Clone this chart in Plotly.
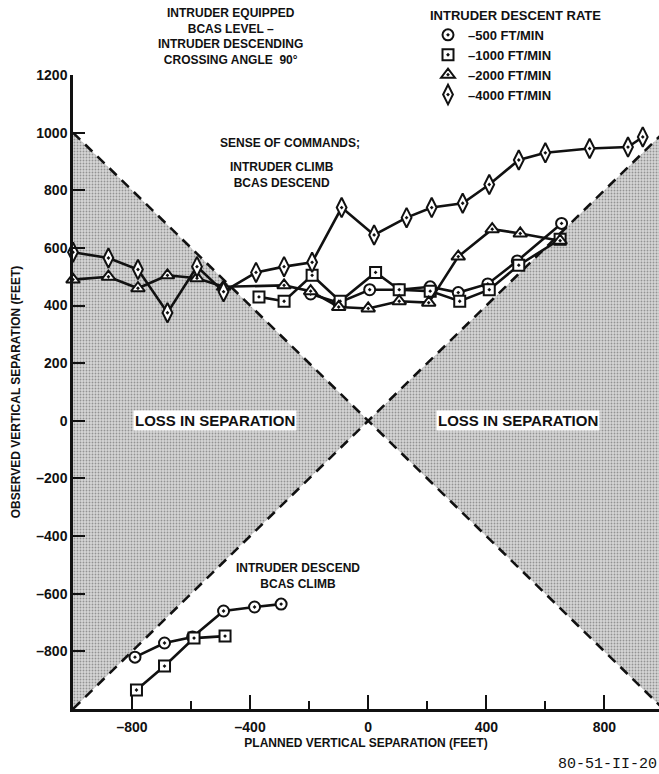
import plotly.graph_objects as go

# ---------------- data ----------------
# Upper group: sense of commands intruder climb / BCAS descend
r500_x = [-195, -100, 5, 105, 210, 305, 405, 505, 655]
r500_y = [440, 410, 455, 455, 465, 445, 475, 555, 685]

r1000_x = [-370, -285, -190, -95, 25, 105, 210, 310, 410, 510, 650]
r1000_y = [430, 415, 505, 415, 515, 455, 450, 415, 455, 540, 630]

r2000_x = [-1000, -880, -780, -680, -580, -490, -285, -195, -100, 0, 105, 205, 305, 420, 515, 650]
r2000_y = [490, 500, 460, 505, 495, 465, 470, 450, 395, 390, 415, 410, 570, 665, 650, 625]

r4000_x = [-1000, -880, -780, -680, -580, -490, -380, -285, -190, -90, 20, 130, 215, 320, 410, 510, 600, 750, 880, 930]
r4000_y = [585, 565, 525, 375, 535, 448, 515, 535, 550, 740, 645, 705, 740, 755, 820, 905, 930, 945, 950, 985]

# Lower group: intruder descend / BCAS climb
low500_x = [-790, -690, -595, -490, -385, -295]
low500_y = [-820, -771, -750, -660, -646, -636]

low1000_x = [-785, -690, -590, -485]
low1000_y = [-934, -851, -754, -747]

# Loss-in-separation zones (bounded by the lines |observed| = |planned|)
left_zone_x = [-1000, 0, -1000]
left_zone_y = [1000, 0, -1000]
right_zone_x = [1000, 0, 1000]
right_zone_y = [1000, 0, -1000]
diag_up_x = [-1000, 1000]
diag_up_y = [-1000, 1000]
diag_dn_x = [-1000, 1000]
diag_dn_y = [1000, -1000]

x_tickvals = [-800, -400, 0, 400, 800]
x_ticktext = ["\u2013800", "\u2013400", "0", "400", "800"]
y_tickvals = [-800, -600, -400, -200, 0, 200, 400, 600, 800, 1000, 1200]
y_ticktext = ["\u2013800", "\u2013600", "\u2013400", "\u2013200", "0", "200", "400", "600", "800", "1000", "1200"]

legend_names = ["\u2013500 FT/MIN", "\u20131000 FT/MIN", "\u20132000 FT/MIN", "\u20134000 FT/MIN"]

# ---------------- styling ----------------
W, H = 659, 774
L, R, T, B = 73, 0, 75, 65
FONT = "Liberation Sans, Arial, Helvetica, sans-serif"
BLACK = "#111111"


def px2paper_x(px):
    return (px - L) / (W - L - R)


def px2paper_y(py):
    return (H - B - py) / (H - T - B)


fig = go.Figure()

pattern = dict(shape=".", fgcolor="#505050", bgcolor="#d6d6d6", size=3, solidity=0.3)
for zx, zy in [(left_zone_x, left_zone_y), (right_zone_x, right_zone_y)]:
    fig.add_trace(go.Scatter(x=zx, y=zy, mode="lines", fill="toself",
                             fillcolor="#c4c4c4", fillpattern=pattern,
                             line=dict(width=0), hoverinfo="skip", showlegend=False))

for dx, dy in [(diag_up_x, diag_up_y), (diag_dn_x, diag_dn_y)]:
    fig.add_trace(go.Scatter(x=dx, y=dy, mode="lines",
                             line=dict(color=BLACK, width=2.5, dash="10px,7px"),
                             hoverinfo="skip", showlegend=False))

series = [
    (r500_x, r500_y, "circle-dot", 11),
    (r1000_x, r1000_y, "square-dot", 11),
    (r2000_x, r2000_y, "triangle-up-dot", 12),
    (r4000_x, r4000_y, "diamond-tall-dot", 14),
    (low500_x, low500_y, "circle-dot", 11),
    (low1000_x, low1000_y, "square-dot", 11),
]
for sx, sy, sym, sz in series:
    fig.add_trace(go.Scatter(x=sx, y=sy, mode="lines+markers",
                             line=dict(color=BLACK, width=2.6),
                             marker=dict(symbol=sym, size=sz, color="white",
                                         line=dict(color=BLACK, width=2)),
                             showlegend=False, cliponaxis=False))

# legend entries (markers only)
for name, (sx, sy, sym, sz) in zip(legend_names, series[:4]):
    fig.add_trace(go.Scatter(x=[None], y=[None], mode="markers", name=name,
                             marker=dict(symbol=sym, size=sz, color="white",
                                         line=dict(color=BLACK, width=2)),
                             showlegend=True))

bold = dict(family=FONT, size=12, color=BLACK, weight="bold")
bold13 = dict(family=FONT, size=13, color=BLACK, weight="bold")
bold14 = dict(family=FONT, size=14, color=BLACK, weight="bold")
bold15 = dict(family=FONT, size=15, color=BLACK, weight="bold")

annotations = [
    dict(text="INTRUDER EQUIPPED<br>BCAS LEVEL \u2013<br>INTRUDER DESCENDING<br>CROSSING ANGLE  90\u00b0",
         xref="paper", yref="paper", x=px2paper_x(230), y=px2paper_y(4),
         xanchor="center", yanchor="top", align="center", showarrow=False, font=bold),
    dict(text="SENSE OF COMMANDS;", xref="paper", yref="paper",
         x=px2paper_x(290), y=px2paper_y(143), xanchor="center", yanchor="middle",
         showarrow=False, font=bold),
    dict(text="INTRUDER CLIMB<br>BCAS DESCEND", xref="paper", yref="paper",
         x=px2paper_x(282), y=px2paper_y(175), xanchor="center", yanchor="middle",
         align="center", showarrow=False, font=bold),
    dict(text="INTRUDER DESCEND<br>BCAS CLIMB", xref="paper", yref="paper",
         x=px2paper_x(298), y=px2paper_y(576), xanchor="center", yanchor="middle",
         align="center", showarrow=False, font=bold),
    dict(text="LOSS IN SEPARATION", xref="paper", yref="paper",
         x=px2paper_x(215), y=px2paper_y(421), xanchor="center", yanchor="middle",
         showarrow=False, font=bold15, bgcolor="white", borderpad=1),
    dict(text="LOSS IN SEPARATION", xref="paper", yref="paper",
         x=px2paper_x(518), y=px2paper_y(421), xanchor="center", yanchor="middle",
         showarrow=False, font=bold15, bgcolor="white", borderpad=1),
    dict(text="80-51-II-20", xref="paper", yref="paper",
         x=1.0, y=px2paper_y(765), xanchor="right", yanchor="middle",
         showarrow=False, font=dict(family="Liberation Mono, Courier New, monospace", size=15, color=BLACK)),
]

fig.update_layout(
    width=W, height=H,
    margin=dict(l=L, r=R, t=T, b=B, pad=0, autoexpand=False),
    paper_bgcolor="white", plot_bgcolor="white",
    font=dict(family=FONT, color=BLACK),
    annotations=annotations,
    legend=dict(title=dict(text="INTRUDER DESCENT RATE", font=bold13, side="top"),
                font=bold13, x=px2paper_x(428), y=px2paper_y(3),
                xanchor="left", yanchor="top", bgcolor="rgba(0,0,0,0)",
                itemwidth=30, tracegroupgap=0),
    showlegend=True,
)

fig.update_xaxes(range=[-1000, 985], showgrid=False, zeroline=False, automargin=False,
                 showline=True, linecolor=BLACK, linewidth=2.5,
                 ticks="inside", ticklen=14, tickwidth=2, tickcolor=BLACK,
                 tickvals=x_tickvals, ticktext=x_ticktext, tickfont=bold14,
                 ticklabelstandoff=3,
                 minor=dict(dtick=200, tick0=0, ticks="inside", ticklen=8, tickwidth=2, tickcolor=BLACK),
                 title=dict(text="PLANNED VERTICAL SEPARATION (FEET)", font=bold, standoff=6))
fig.update_yaxes(range=[-1000, 1200], showgrid=False, zeroline=False, automargin=False,
                 showline=True, linecolor=BLACK, linewidth=2.5,
                 ticks="inside", ticklen=12, tickwidth=2, tickcolor=BLACK,
                 tickvals=y_tickvals, ticktext=y_ticktext, tickfont=bold14,
                 title=dict(text="OBSERVED VERTICAL SEPARATION (FEET)", font=bold, standoff=14))

fig.write_html("out.html", config={"displayModeBar": False},
               post_script="document.body.style.margin='0';document.body.style.overflow='hidden';")
